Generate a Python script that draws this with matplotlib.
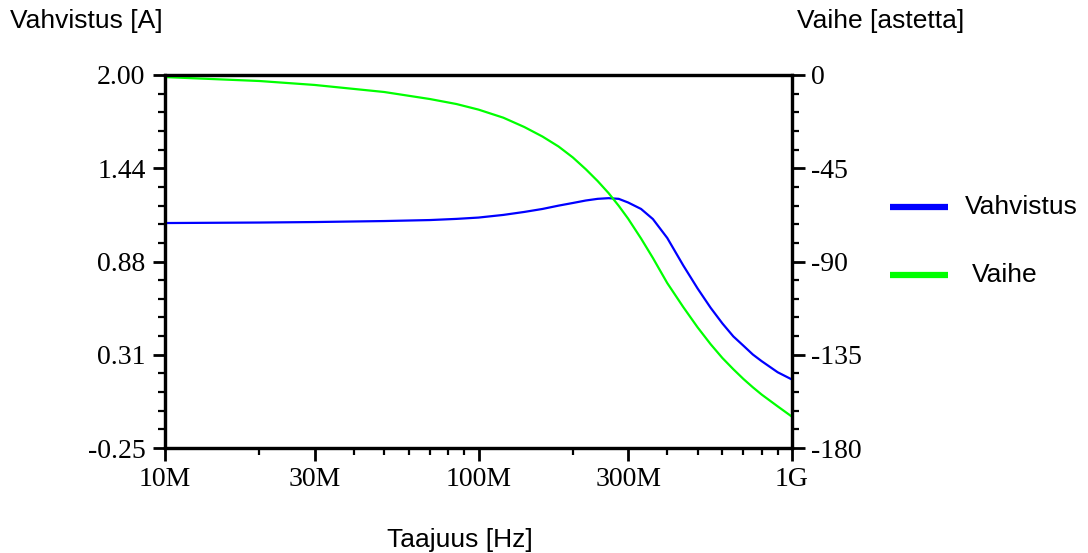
import matplotlib
matplotlib.use("Agg")
import matplotlib.pyplot as plt
from matplotlib.lines import Line2D
from matplotlib.ticker import FixedLocator, FixedFormatter, LogLocator, NullFormatter

# Frequency sweep (Hz)
freq = [10e6, 20e6, 30e6, 50e6, 70e6, 85e6, 100e6, 120e6, 140e6, 160e6, 180e6,
        200e6, 220e6, 240e6, 260e6, 280e6, 300e6, 330e6, 360e6, 400e6,
        450e6, 500e6, 550e6, 600e6, 650e6, 700e6, 750e6, 800e6, 900e6, 1e9]

# Gain (left axis)
gain = [1.107, 1.110, 1.113, 1.119, 1.125, 1.132, 1.140, 1.156, 1.174, 1.192, 1.212,
        1.228, 1.243, 1.253, 1.257, 1.253, 1.231, 1.192, 1.131, 1.017,
        0.851, 0.712, 0.596, 0.501, 0.423, 0.367, 0.314, 0.274, 0.207, 0.163]

# Phase in degrees (right axis)
phase = [-1.0, -2.9, -4.8, -8.2, -11.6, -14.0, -16.7, -20.6, -25.1, -29.7, -34.5,
         -39.8, -45.5, -51.2, -57.0, -63.1, -69.3, -78.9, -88.3, -100.4,
         -112.0, -121.8, -129.9, -136.6, -142.0, -146.7, -150.7, -154.2,
         -159.9, -164.9]

x_ticks = [10e6, 30e6, 100e6, 300e6, 1e9]
x_ticklabels = ["10M", "30M", "100M", "300M", "1G"]
gain_ticks = [-0.25, 0.3125, 0.875, 1.4375, 2.00]
gain_ticklabels = ["-0.25", "0.31", "0.88", "1.44", "2.00"]
phase_ticks = [-180, -135, -90, -45, 0]
phase_ticklabels = ["-180", "-135", "-90", "-45", "0"]

W, H = 1088, 553
fig = plt.figure(figsize=(W / 100, H / 100), dpi=100)
ax = fig.add_axes([165 / W, 1 - 448 / H, (792 - 165) / W, (448 - 75) / H])
ax2 = ax.twinx()

serif = "Liberation Serif"
sans = "Liberation Sans"
tick_fs = 20
label_fs = 19

ax.plot(freq, gain, color="#0000ff", lw=1.6, zorder=3)
ax2.plot(freq, phase, color="#00ff00", lw=1.6, zorder=2)

ax.set_xscale("log")
ax.set_xlim(10e6, 1e9)
ax.set_ylim(-0.25, 2.00)
ax2.set_ylim(-180, 0)

ax.xaxis.set_major_locator(FixedLocator(x_ticks))
ax.xaxis.set_major_formatter(FixedFormatter(x_ticklabels))
ax.xaxis.set_minor_locator(LogLocator(base=10, subs=range(2, 10)))
ax.xaxis.set_minor_formatter(NullFormatter())

ax.yaxis.set_major_locator(FixedLocator(gain_ticks))
ax.yaxis.set_major_formatter(FixedFormatter(gain_ticklabels))
step = (2.00 + 0.25) / 20
ax.yaxis.set_minor_locator(FixedLocator([-0.25 + i * step for i in range(21)]))

ax2.yaxis.set_major_locator(FixedLocator(phase_ticks))
ax2.yaxis.set_major_formatter(FixedFormatter(phase_ticklabels))
ax2.yaxis.set_minor_locator(FixedLocator(list(range(-180, 1, 9))))

for a in (ax, ax2):
    for s in a.spines.values():
        s.set_linewidth(2.3)
        s.set_color("black")
    a.tick_params(which="major", direction="out", length=9, width=2.0,
                  labelsize=tick_fs, pad=5)
    a.tick_params(which="minor", direction="out", length=5, width=1.6)
    for lbl in a.get_xticklabels() + a.get_yticklabels():
        lbl.set_fontfamily(serif)

ax.tick_params(axis="x", which="both", top=False)
ax2.tick_params(axis="x", which="both", top=False, bottom=False)

# Axis titles
fig.text(10 / W, 1 - 21 / H, "Vahvistus [A]", fontsize=label_fs, family=sans,
         ha="left", va="center")
fig.text(797 / W, 1 - 21 / H, "Vaihe [astetta]", fontsize=label_fs, family=sans,
         ha="left", va="center")
fig.text(460 / W, 1 - 540 / H, "Taajuus [Hz]", fontsize=label_fs, family=sans,
         ha="center", va="center")

# Legend
for y, col, txt, tx in [(207, "#0000ff", "Vahvistus", 965), (275, "#00ff00", "Vaihe", 972)]:
    fig.add_artist(Line2D([890 / W, 948 / W], [1 - y / H, 1 - y / H],
                          transform=fig.transFigure, color=col, lw=4.5,
                          solid_capstyle="butt"))
    fig.text(tx / W, 1 - y / H, txt, fontsize=label_fs, family=sans,
             ha="left", va="center")

fig.savefig("out.png", dpi=100)
